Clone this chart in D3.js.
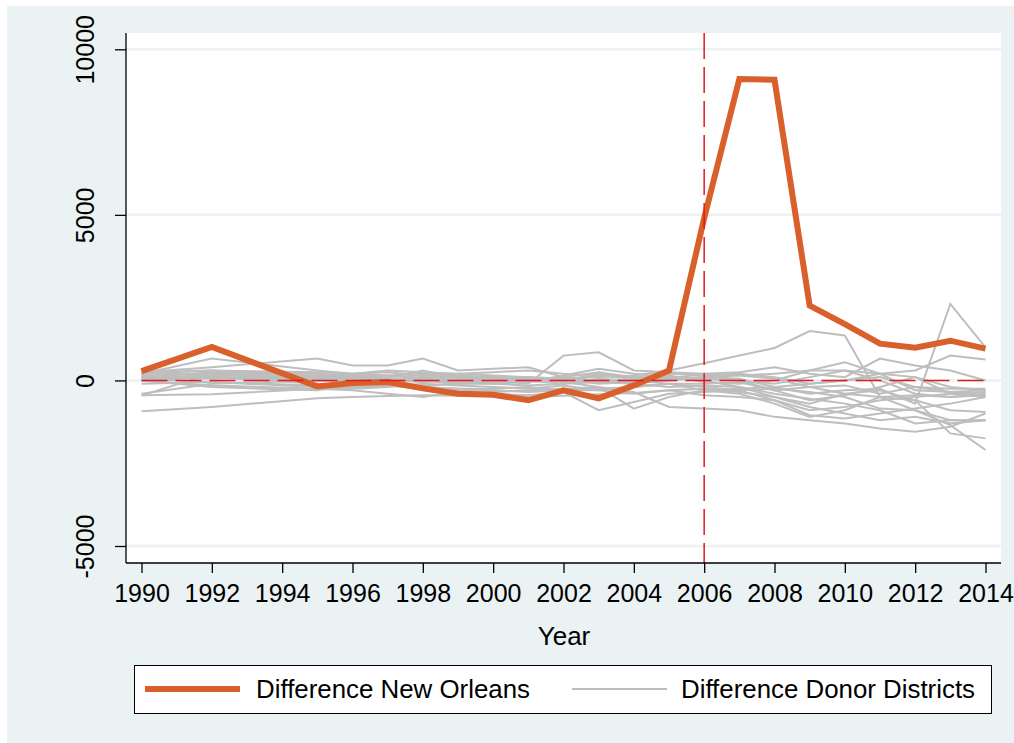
<!DOCTYPE html>
<html>
<head>
<meta charset="utf-8">
<script src="https://cdn.jsdelivr.net/npm/d3@7"></script>
<style>
  html, body { margin: 0; padding: 0; background: #ffffff; }
  svg { display: block; font-family: "Liberation Sans", Arial, sans-serif; }
</style>
</head>
<body>
<svg id="chart" width="1014" height="743"></svg>
<script>
// Years observed (1993 and 1994 are not in the panel)
const years = [1990, 1992, 1995, 1996, 1997, 1998, 1999, 2000, 2001, 2002, 2003,
               2004, 2005, 2006, 2007, 2008, 2009, 2010, 2011, 2012, 2013, 2014];

// Treated unit: difference between New Orleans and its synthetic control
const newOrleans = [280, 1010, -180, -80, -50, -240, -400, -430, -600, -300, -540,
                    -150, 300, 4900, 9100, 9080, 2260, 1700, 1110, 990, 1200, 960];

// Placebo differences for each donor district
const donors = [
  [-930, -800, -540, -500, -470, -450, -460, -440, -500, -460, -420, -380, -300, -250, -350, -500, -800, -1000, -1200, -1100, -1300, -1200],
  [-450, -420, -250, -200, -150, -250, -300, -350, -300, -250, -200, -350, -800, -850, -900, -1100, -1200, -1300, -1450, -1550, -1400, -1000],
  [100, 250, 200, 150, 100, 150, 100, 50, 100, 50, 100, 150, 300, 520, 750, 980, 1490, 1360, -500, -900, -1350, -2100],
  [150, 100, 0, -50, 50, 0, -100, -50, 0, 50, -100, -50, 0, 100, 50, -200, -400, -300, -250, -700, 2310, 1000],
  [250, 400, 660, 450, 450, 660, 300, 350, 400, 100, 250, 100, 200, 150, 200, 100, -100, 0, 200, 100, -200, -300],
  [0, 100, 50, 0, -50, 100, 50, 0, -100, 750, 850, 300, 250, 200, 150, 50, -200, -400, -500, -450, -500, -450],
  [200, 660, 300, 200, 150, 200, 150, 100, 50, 0, 150, 50, 100, 50, 0, -300, -600, -450, -200, 100, -400, -500],
  [50, 150, 100, 100, 0, 50, 0, -50, 50, 0, -50, 0, 50, 200, 250, 400, 200, 100, 660, 450, 300, 0],
  [-100, -50, -150, -100, -50, -150, -100, -100, -150, -100, -50, 0, 150, -50, -100, 0, 300, 550, 200, 300, 750, 630],
  [-450, 200, 150, 100, 50, 0, -50, -100, -50, 0, 200, 100, 50, 0, -200, -500, -700, -400, -300, -600, -1600, -1750],
  [300, 100, -100, -200, -150, -200, -250, -300, -350, -300, -250, -200, -100, -200, -300, -600, -900, -800, -600, -500, -400, -350],
  [0, -150, -250, -300, -400, -500, -350, -400, -450, -350, -900, -650, -400, -350, -300, -250, -350, -500, -850, -900, -1200, -1200],
  [100, 50, 150, 200, 300, 250, 200, 150, 100, -50, -200, -850, -500, -300, -250, -200, -100, 0, 100, -200, -350, -450],
  [200, 300, 100, 50, 0, -50, 0, 100, 0, -100, 50, 0, -100, -300, -400, -700, -1100, -900, -500, -600, -900, -950],
  [-400, -100, 0, 50, 100, 300, 100, 50, -50, 150, 350, 200, 100, 50, 0, -100, 100, 300, 200, -300, -350, -300],
  [50, -50, -200, -250, -200, -100, -150, -200, -250, -150, -300, -400, -300, -450, -500, -600, -1050, -1150, -1000, -850, -700, -500],
  [150, 200, 50, 100, 150, 50, -100, -50, 0, 100, -50, -100, -200, -150, -200, -400, -550, -700, -900, -1300, -1200, -1200],
  [250, 300, 250, 200, 250, 150, 200, 250, 300, 200, 150, 100, 50, 100, 150, 200, 300, 300, 0, -400, -500, -400],
  [0, -200, -300, -150, -100, -200, -250, -250, -200, -300, -300, -200, -100, -100, -50, -300, -200, -150, -400, -200, -250, -250]
];

const xTicks = [1990, 1992, 1994, 1996, 1998, 2000, 2002, 2004, 2006, 2008, 2010, 2012, 2014];
const yTicks = [-5000, 0, 5000, 10000];
const treatmentYear = 2006;
const legendLabels = ["Difference New Orleans", "Difference Donor Districts"];

const colors = {
  panel: "#eaf2f3",
  grid: "#eaf2f3",
  treated: "#d95f2b",
  donor: "#bebebe",
  refline: "#e3191f",
  ink: "#000000"
};

const tickFont = 25;
const textFont = 26;

const svg = d3.select("#chart");

// Outer graph region and plot region
svg.append("rect").attr("x", 7).attr("y", 6).attr("width", 1007).attr("height", 737)
  .attr("fill", colors.panel);

const plot = { left: 126, right: 1001, top: 33, bottom: 563 };
svg.append("rect")
  .attr("x", plot.left).attr("y", plot.top)
  .attr("width", plot.right - plot.left).attr("height", plot.bottom - plot.top)
  .attr("fill", "#ffffff");

const x = d3.scaleLinear().domain([1990, 2014]).range([141.5, 985.5]);
const y = d3.scaleLinear().domain([-5000, 10000]).range([546, 49.3]);

// Horizontal gridlines
svg.append("g").selectAll("line").data(yTicks).join("line")
  .attr("x1", plot.left).attr("x2", plot.right)
  .attr("y1", d => y(d)).attr("y2", d => y(d))
  .attr("stroke", colors.grid).attr("stroke-width", 2.5);

const line = d3.line().x((d, i) => x(years[i])).y(d => y(d));

// Donor placebo paths
svg.append("g").selectAll("path").data(donors).join("path")
  .attr("d", d => line(d))
  .attr("fill", "none")
  .attr("stroke", colors.donor)
  .attr("stroke-width", 2);

// New Orleans path
svg.append("path")
  .attr("d", line(newOrleans))
  .attr("fill", "none")
  .attr("stroke", colors.treated)
  .attr("stroke-width", 6);

// Reference lines: zero difference and treatment year
svg.append("line")
  .attr("x1", x(1990)).attr("x2", x(2014))
  .attr("y1", y(0)).attr("y2", y(0))
  .attr("stroke", colors.refline).attr("stroke-width", 1.5)
  .attr("stroke-dasharray", "26,8");
svg.append("line")
  .attr("x1", x(treatmentYear)).attr("x2", x(treatmentYear))
  .attr("y1", plot.top).attr("y2", plot.bottom)
  .attr("stroke", colors.refline).attr("stroke-width", 1.5)
  .attr("stroke-dasharray", "26,8");

// Axes (plain hyphen for negative labels)
const plainInt = d => String(d);

const yAxis = d3.axisLeft(y).tickValues(yTicks).tickSize(11).tickPadding(0).tickFormat(plainInt);
const gy = svg.append("g").attr("transform", `translate(${plot.left},0)`).call(yAxis);
gy.select(".domain").remove();
gy.selectAll(".tick line").attr("stroke", colors.ink).attr("stroke-width", 1.3);
gy.selectAll(".tick text")
  .attr("transform", "translate(-32,0) rotate(-90)")
  .attr("x", 0).attr("dy", 0).attr("y", 0)
  .attr("text-anchor", "middle")
  .attr("font-size", tickFont)
  .attr("fill", colors.ink);

const xAxis = d3.axisBottom(x).tickValues(xTicks).tickSize(10).tickPadding(0).tickFormat(plainInt);
const gx = svg.append("g").attr("transform", `translate(0,${plot.bottom})`).call(xAxis);
gx.select(".domain").remove();
gx.selectAll(".tick line").attr("stroke", colors.ink).attr("stroke-width", 1.3);
gx.selectAll(".tick text")
  .attr("y", 39).attr("dy", 0)
  .attr("font-size", tickFont)
  .attr("fill", colors.ink);

svg.append("line")
  .attr("x1", plot.left).attr("x2", plot.left)
  .attr("y1", plot.top).attr("y2", plot.bottom)
  .attr("stroke", colors.ink).attr("stroke-width", 1.3);
svg.append("line")
  .attr("x1", plot.left).attr("x2", plot.right)
  .attr("y1", plot.bottom).attr("y2", plot.bottom)
  .attr("stroke", colors.ink).attr("stroke-width", 1.3);

// Axis title
svg.append("text")
  .attr("x", 564).attr("y", 645)
  .attr("text-anchor", "middle")
  .attr("font-size", textFont)
  .attr("fill", colors.ink)
  .text("Year");

// Legend
const legend = svg.append("g");
legend.append("rect")
  .attr("x", 134.5).attr("y", 665.5).attr("width", 857).attr("height", 48)
  .attr("fill", "#ffffff").attr("stroke", colors.ink).attr("stroke-width", 1);
legend.append("line")
  .attr("x1", 145).attr("x2", 240).attr("y1", 689).attr("y2", 689)
  .attr("stroke", colors.treated).attr("stroke-width", 6);
legend.append("text")
  .attr("x", 256).attr("y", 698)
  .attr("font-size", textFont).attr("fill", colors.ink)
  .attr("textLength", 274).attr("lengthAdjust", "spacingAndGlyphs")
  .text(legendLabels[0]);
legend.append("line")
  .attr("x1", 572).attr("x2", 667).attr("y1", 689).attr("y2", 689)
  .attr("stroke", colors.donor).attr("stroke-width", 2);
legend.append("text")
  .attr("x", 681).attr("y", 698)
  .attr("font-size", textFont).attr("fill", colors.ink)
  .attr("textLength", 294).attr("lengthAdjust", "spacingAndGlyphs")
  .text(legendLabels[1]);
</script>
</body>
</html>
